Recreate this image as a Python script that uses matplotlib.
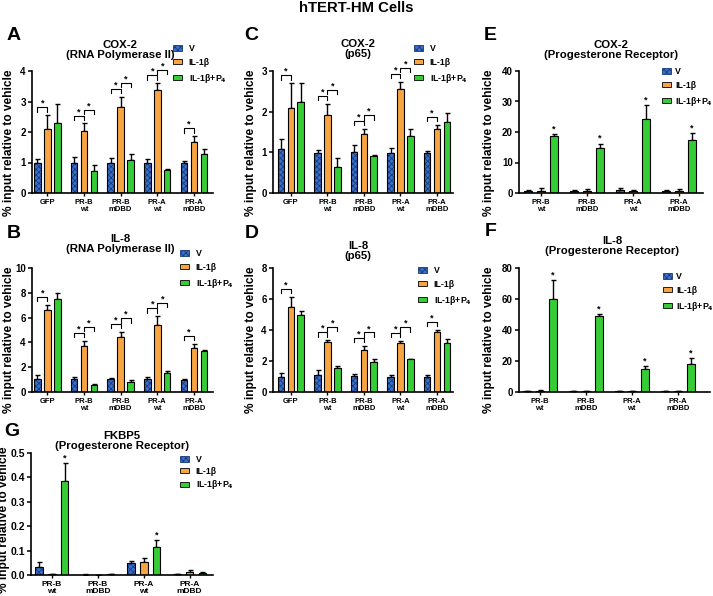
import matplotlib.pyplot as plt
import numpy as np
from matplotlib.patches import Patch

plt.rcParams['font.family'] = ['Liberation Sans', 'DejaVu Sans']
plt.rcParams['font.weight'] = 'bold'
plt.rcParams['hatch.linewidth'] = 0.6

# ---- data ----
groups5 = ['GFP', 'PR-B\nwt', 'PR-B\nmDBD', 'PR-A\nwt', 'PR-A\nmDBD']
groups4 = ['PR-B\nwt', 'PR-B\nmDBD', 'PR-A\nwt', 'PR-A\nmDBD']
series = ['V', 'IL-1β', 'IL-1β+P$_4$']

# A: COX-2 (RNA Polymerase II)
a_v = [1.00, 1.00, 1.00, 1.00, 0.99]
a_v_err = [0.10, 0.18, 0.16, 0.10, 0.06]
a_il = [2.11, 2.04, 2.82, 3.38, 1.68]
a_il_err = [0.44, 0.24, 0.34, 0.22, 0.18]
a_p4 = [2.30, 0.72, 1.07, 0.75, 1.28]
a_p4_err = [0.62, 0.19, 0.22, 0.04, 0.17]

# C: COX-2 (p65)
c_v = [1.07, 0.99, 1.01, 0.99, 0.99]
c_v_err = [0.27, 0.07, 0.17, 0.12, 0.05]
c_il = [2.10, 1.93, 1.45, 2.56, 1.58]
c_il_err = [0.60, 0.27, 0.13, 0.18, 0.09]
c_p4 = [2.25, 0.63, 0.90, 1.39, 1.74]
c_p4_err = [0.45, 0.24, 0.03, 0.18, 0.22]

# E: COX-2 (Progesterone Receptor)
e_v = [0.8, 0.7, 0.9, 0.7]
e_v_err = [0.2, 0.2, 0.6, 0.2]
e_il = [0.8, 0.7, 0.5, 0.8]
e_il_err = [0.7, 0.7, 0.4, 0.4]
e_p4 = [18.7, 14.9, 24.4, 17.3]
e_p4_err = [0.6, 1.3, 4.4, 2.4]

# B: IL-8 (RNA Polymerase II)
b_v = [1.08, 1.02, 1.02, 1.02, 0.97]
b_v_err = [0.32, 0.22, 0.14, 0.16, 0.08]
b_il = [6.59, 3.68, 4.46, 5.38, 3.55]
b_il_err = [0.45, 0.46, 0.38, 0.72, 0.35]
b_p4 = [7.47, 0.54, 0.81, 1.56, 3.28]
b_p4_err = [0.49, 0.11, 0.16, 0.11, 0.13]

# D: IL-8 (p65)
d_v = [0.99, 1.08, 1.02, 0.97, 0.99]
d_v_err = [0.26, 0.33, 0.17, 0.15, 0.13]
d_il = [5.49, 3.20, 2.68, 3.14, 3.85]
d_il_err = [0.65, 0.13, 0.28, 0.15, 0.15]
d_p4 = [4.97, 1.56, 1.95, 2.10, 3.18]
d_p4_err = [0.28, 0.13, 0.15, 0.06, 0.21]

# F: IL-8 (Progesterone Receptor)
f_v = [0.6, 0.6, 0.4, 0.4]
f_v_err = [0.2, 0.2, 0.1, 0.1]
f_il = [0.6, 0.5, 0.4, 0.4]
f_il_err = [0.4, 0.2, 0.1, 0.1]
f_p4 = [60.2, 48.8, 15.1, 18.3]
f_p4_err = [12.1, 1.5, 1.7, 3.6]

# G: FKBP5 (Progesterone Receptor)
g_v = [0.034, 0.002, 0.048, 0.003]
g_v_err = [0.018, 0.001, 0.011, 0.001]
g_il = [0.003, 0.001, 0.053, 0.012]
g_il_err = [0.002, 0.001, 0.018, 0.007]
g_p4 = [0.384, 0.004, 0.115, 0.008]
g_p4_err = [0.075, 0.002, 0.029, 0.006]

# significance: V vs IL-1b bracket, IL-1b vs IL-1b+P4 bracket, star over P4 bar
sig_vi5 = [1, 1, 1, 1, 1]
sig_ip5 = [0, 1, 1, 1, 0]
star_e = [1, 1, 1, 1]
star_f = [1, 1, 1, 1]
star_g = [1, 0, 1, 0]

BLUE = '#3a6fcc'
HATCH = '#173c7a'
ORANGE = '#f7a443'
GREEN = '#35cc35'

W, H = 713, 596
fig = plt.figure(figsize=(W / 100, H / 100), dpi=100, facecolor='white')


def fx(x):
    return x / W


def fy(y):
    return 1 - y / H


def panel(box, groups, vals, errs, ylim, yticks, ylabels, xlim, off, bw,
          title, title_xy, letter, letter_xy, ylab_xy, leg_xy,
          sig_vi=None, sig_ip=None, stars=None, yfs=7.0, xfs=5.5, legsp=0.55,
          legpad=0.8):
    x0, y0, x1, y1 = box
    ax = fig.add_axes([fx(x0), fy(y1), (x1 - x0) / W, (y1 - y0) / H])
    x = np.arange(len(groups))
    colors = [BLUE, ORANGE, GREEN]
    for k in range(3):
        pos = x + (k - 1) * off
        if k == 0:
            ax.bar(pos, vals[k], bw, color=BLUE, edgecolor=HATCH, hatch='xxxxxx',
                   linewidth=0, zorder=2)
            ax.bar(pos, vals[k], bw, facecolor='none', edgecolor='black',
                   linewidth=0.8, zorder=3)
        else:
            ax.bar(pos, vals[k], bw, color=colors[k], edgecolor='black',
                   linewidth=0.8, zorder=2)
        ax.errorbar(pos, vals[k], yerr=[np.zeros(len(groups)), errs[k]], fmt='none',
                    ecolor='black', elinewidth=1.0, capsize=1.8, capthick=1.0, zorder=1)
    ax.set_xlim(*xlim)
    ax.set_ylim(*ylim)
    ax.set_yticks(yticks)
    ax.set_yticklabels(ylabels, fontsize=yfs, fontweight='bold')
    ax.set_xticks(x)
    ax.set_xticklabels(groups, fontsize=xfs, fontweight='bold', linespacing=1.1)
    for s in ['top', 'right']:
        ax.spines[s].set_visible(False)
    for s in ['left', 'bottom']:
        ax.spines[s].set_linewidth(1.2)
    ax.tick_params(axis='y', length=3, width=1.1, pad=1.5)
    ax.tick_params(axis='x', length=2.5, width=1.0, pad=1.5)

    ymax = ylim[1]
    tops = [np.array(vals[k]) + np.array(errs[k]) for k in range(3)]
    if sig_vi is not None:
        for i in range(len(groups)):
            h1 = tops[1][i] + 0.065 * ymax
            h2 = h1 + 0.045 * ymax
            d = 0.035 * ymax
            if sig_vi[i]:
                xa, xb = x[i] - off, x[i]
                ax.plot([xa, xa, xb, xb], [h1 - d, h1, h1, h1 - d], color='black',
                        lw=0.8, clip_on=False)
                ax.text((xa + xb) / 2, h1 - 0.005 * ymax, '*', ha='center', va='bottom',
                        fontsize=6.5)
            if sig_ip[i]:
                xa, xb = x[i], x[i] + off
                ax.plot([xa, xa, xb, xb], [h2 - d, h2, h2, h2 - d], color='black',
                        lw=0.8, clip_on=False)
                ax.text((xa + xb) / 2, h2 - 0.005 * ymax, '*', ha='center', va='bottom',
                        fontsize=6.5)
    if stars is not None:
        for i in range(len(groups)):
            if stars[i]:
                ax.text(x[i] + off, tops[2][i] + 0.005 * ymax, '*', ha='center',
                        va='bottom', fontsize=6.5)

    fig.text(fx(title_xy[0]), fy(title_xy[1]), title, ha='center', va='center',
             fontsize=8.2, fontweight='bold', linespacing=1.1)
    fig.text(fx(letter_xy[0]), fy(letter_xy[1]), letter, ha='left', va='center',
             fontsize=14, fontweight='bold')
    fig.text(fx(ylab_xy[0]), fy(ylab_xy[1]), '% input relative to vehicle',
             rotation=90, ha='center', va='center', fontsize=8.6, fontweight='bold')

    handles = [Patch(facecolor=BLUE, edgecolor=HATCH, hatch='xxxxxx', linewidth=0.6),
               Patch(facecolor=ORANGE, edgecolor='black', linewidth=0.6),
               Patch(facecolor=GREEN, edgecolor='black', linewidth=0.6)]
    ax.legend(handles, series, loc='upper left', bbox_to_anchor=(fx(leg_xy[0]), fy(leg_xy[1])),
              bbox_transform=fig.transFigure, frameon=False, borderpad=0, borderaxespad=0,
              handlelength=1.0, handleheight=0.55, handletextpad=legpad,
              labelspacing=legsp, prop={'size': 6.3, 'weight': 'bold'})
    return ax


panel((32, 71, 213, 193), groups5, [a_v, a_il, a_p4], [a_v_err, a_il_err, a_p4_err],
      (0, 4), [0, 1, 2, 3, 4], ['0', '1', '2', '3', '4'], (-0.42, 4.52), 0.27, 0.18,
      'COX-2\n(RNA Polymerase II)', (120, 50), 'A', (7, 36), (9, 143), (173, 44),
      sig_vi5, sig_ip5)

panel((273, 71, 453, 193), groups5, [c_v, c_il, c_p4], [c_v_err, c_il_err, c_p4_err],
      (0, 3), [0, 1, 2, 3], ['0', '1', '2', '3'], (-0.49, 4.44), 0.27, 0.18,
      'COX-2\n(p65)', (358, 49), 'C', (244, 36), (251, 143), (414, 44),
      sig_vi5, sig_ip5)

panel((519, 71, 703, 193), groups4, [e_v, e_il, e_p4], [e_v_err, e_il_err, e_p4_err],
      (0, 40), [0, 10, 20, 30, 40], ['0', '10', '20', '30', '40'], (-0.48, 3.52), 0.28, 0.17,
      'COX-2\n(Progesterone Receptor)', (611, 50), 'E', (484, 36), (489, 143), (662, 67),
      stars=star_e, legpad=0.5)

panel((32, 268, 213, 392), groups5, [b_v, b_il, b_p4], [b_v_err, b_il_err, b_p4_err],
      (0, 10), [0, 2, 4, 6, 8, 10], ['0', '2', '4', '6', '8', '10'], (-0.42, 4.52), 0.27, 0.18,
      'IL-8\n(RNA Polymerase II)', (120, 244), 'B', (7, 233), (9, 340), (180, 249),
      sig_vi5, sig_ip5)

panel((273, 268, 453, 392), groups5, [d_v, d_il, d_p4], [d_v_err, d_il_err, d_p4_err],
      (0, 8), [0, 2, 4, 6, 8], ['0', '2', '4', '6', '8'], (-0.49, 4.44), 0.27, 0.18,
      'IL-8\n(p65)', (358, 251), 'D', (245, 233), (251, 340), (418, 266),
      sig_vi5, sig_ip5)

panel((519, 268, 710, 392), groups4, [f_v, f_il, f_p4], [f_v_err, f_il_err, f_p4_err],
      (0, 80), [0, 20, 40, 60, 80], ['0', '20', '40', '60', '80'], (-0.45, 3.7), 0.28, 0.17,
      'IL-8\n(Progesterone Receptor)', (612, 246), 'F', (485, 232), (489, 340), (663, 272),
      stars=star_f, legpad=0.5)

panel((31, 453, 213, 575), groups4, [g_v, g_il, g_p4], [g_v_err, g_il_err, g_p4_err],
      (0, 0.5), [0, 0.1, 0.2, 0.3, 0.4, 0.5], ['0.0', '0.1', '0.2', '0.3', '0.4', '0.5'],
      (-0.45, 3.51), 0.28, 0.17,
      'FKBP5\n(Progesterone Receptor)', (122, 441), 'G', (4, 432), (4.5, 520), (180, 455),
      stars=star_g, yfs=7.5, xfs=6.0, legsp=0.3)

fig.text(fx(356), fy(8), 'hTERT-HM Cells', ha='center', va='center',
         fontsize=10.7, fontweight='bold')

fig.savefig('out.png', dpi=100, facecolor='white')
